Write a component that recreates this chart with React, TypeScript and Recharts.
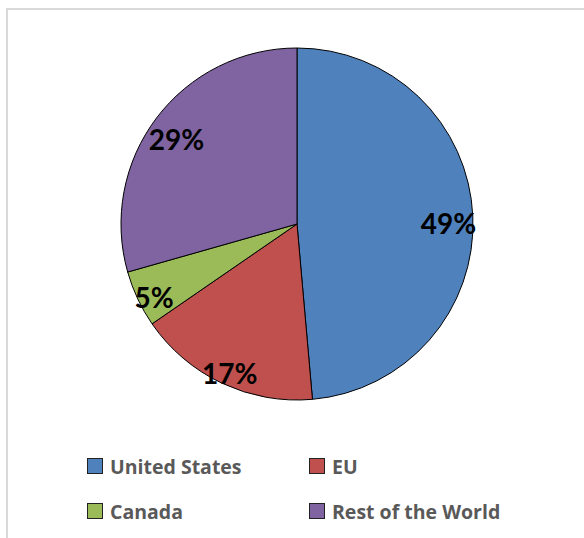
import { Cell, Legend, Pie, PieChart } from 'recharts';

const regions = ['United States', 'EU', 'Canada', 'Rest of the World'];
const shares = [48.6, 16.8, 5.2, 29.4];
const sliceColors = ['#4f81bd', '#c0504d', '#9bbb59', '#8064a2'];

const data = regions.map((name, i) => ({ name, value: shares[i] }));

const LABEL_FONT = 28;
const RADIAN = Math.PI / 180;

// Excel-style "inside end" labels: push the text box out until it touches the rim.
// Excel's text box carries descender space, so the glyphs sit a little low in it.
const renderLabel = (props: any) => {
  const { cx, cy, midAngle, outerRadius, percent } = props;
  const text = `${Math.round(percent * 100)}%`;
  const w = text.length * LABEL_FONT * 0.62;
  const h = LABEL_FONT * 0.72;
  const cos = Math.cos(-midAngle * RADIAN);
  const sin = Math.sin(-midAngle * RADIAN);
  const ext = Math.abs(cos) * (w / 2) + Math.abs(sin) * (h / 2);
  const r = outerRadius - ext + 2;
  return (
    <text
      x={cx + r * cos}
      y={cy + r * sin + h / 2 + 7}
      textAnchor="middle"
      fill="#000"
      fontSize={LABEL_FONT}
      fontWeight={700}
      fontFamily="Lato, sans-serif"
    >
      {text}
    </text>
  );
};

const renderLegend = () => (
  <div
    style={{
      display: 'grid',
      gridTemplateColumns: '222px 260px',
      rowGap: 27,
      fontFamily: '"Open Sans", sans-serif',
      fontWeight: 700,
      fontSize: 19.5,
      color: '#595959',
    }}
  >
    {regions.map((name, i) => (
      <div key={name} style={{ display: 'flex', alignItems: 'center', height: 18 }}>
        <span
          style={{
            display: 'inline-block',
            width: 14,
            height: 14,
            background: sliceColors[i],
            border: '1px solid #222',
            marginRight: 7,
          }}
        />
        <span>{name}</span>
      </div>
    ))}
  </div>
);

export default function App() {
  return (
    <div
      style={{
        position: 'fixed',
        left: 0,
        top: 0,
        width: 584,
        height: 538,
        overflow: 'hidden',
        background: '#fff',
      }}
    >
      <div
        style={{
          position: 'absolute',
          left: 6,
          top: 8,
          width: 620,
          height: 600,
          border: '2px solid #d9d9d9',
        }}
      />
      <div style={{ position: 'absolute', left: 0, top: 0 }}>
        <PieChart width={584} height={538} margin={{ top: 0, right: 0, bottom: 0, left: 0 }}>
          <Pie
            data={data}
            dataKey="value"
            nameKey="name"
            cx={297}
            cy={224}
            outerRadius={176}
            startAngle={90}
            endAngle={-270}
            stroke="#000"
            strokeWidth={1}
            label={renderLabel}
            labelLine={false}
            isAnimationActive={false}
          >
            {data.map((d, i) => (
              <Cell key={d.name} fill={sliceColors[i]} />
            ))}
          </Pie>
          <Legend
            content={renderLegend}
            wrapperStyle={{ position: 'absolute', left: 87, top: 457, width: 490 }}
          />
        </PieChart>
      </div>
    </div>
  );
}
